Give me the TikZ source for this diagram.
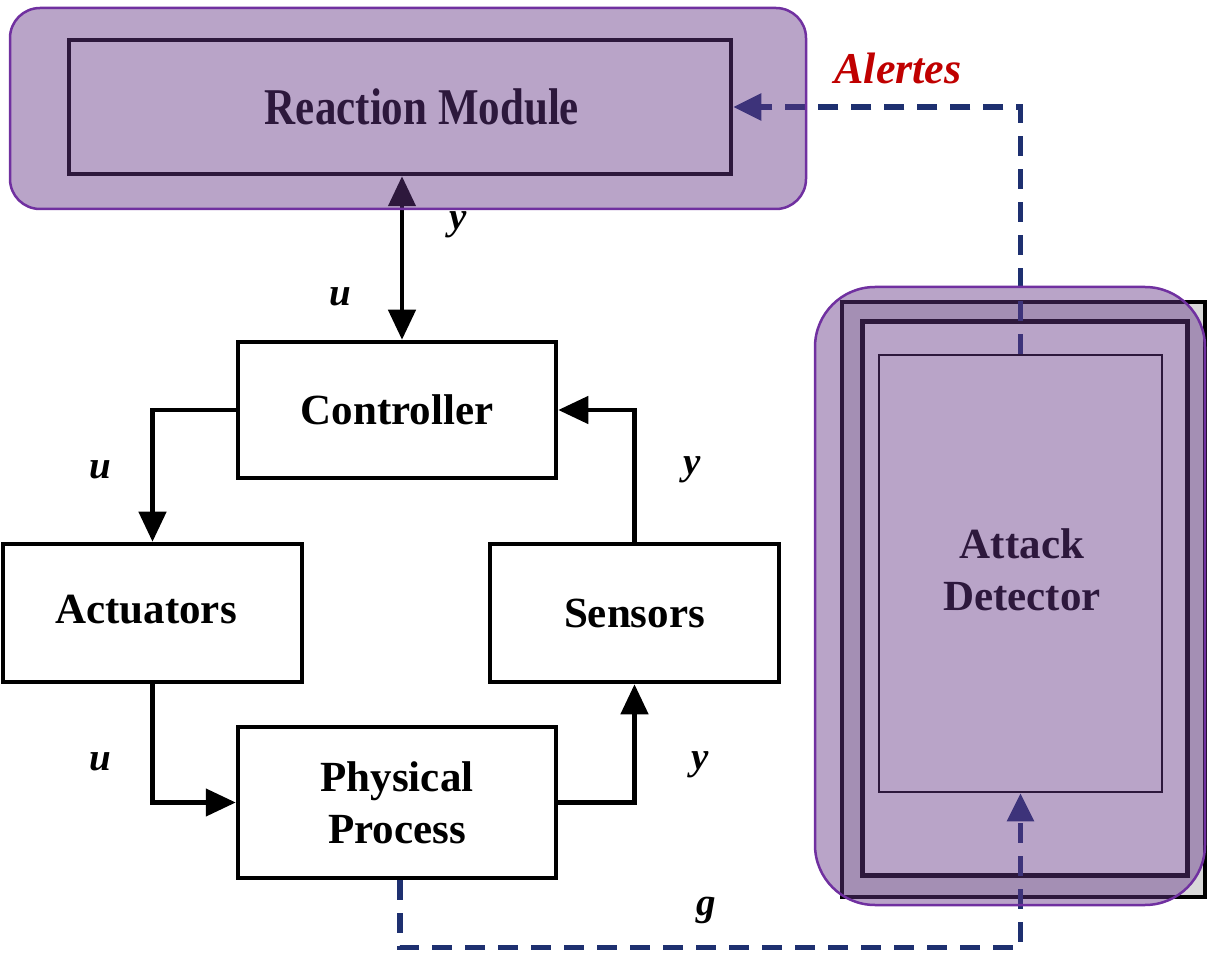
\documentclass[tikz,border=0pt]{standalone}
\usepackage{fontspec}
\setmainfont{Liberation Serif}
\usetikzlibrary{arrows.meta,calc}
\definecolor{veil}{RGB}{100,55,135}
\definecolor{veilline}{RGB}{112,48,160}
\definecolor{navy}{RGB}{30,48,112}
\definecolor{alertred}{RGB}{192,0,0}
\tikzset{
  block/.style={draw=black, line width=4.5pt, fill=white, inner sep=0pt, align=center,
    font=\fontsize{43}{52}\selectfont\bfseries},
  label/.style={font=\fontsize{43}{52}\selectfont\bfseries, align=center},
  head/.style={Triangle[length=30pt,width=27pt]},
  flow/.style={line width=4.5pt, -{Triangle[length=30pt,width=27pt]}},
  sig/.style={font=\fontsize{39}{44}\selectfont\bfseries\itshape},
  alarm/.style={navy, line width=5.5pt, dash pattern=on 20pt off 13pt,
    -{Triangle[length=28pt,width=26pt]}},
  veilbox/.style={draw=veilline, line width=2.5pt, fill=veil, fill opacity=0.45}
}
\begin{document}
\begin{tikzpicture}[x=1pt,y=-1pt]
\useasboundingbox[fill=white] (0,0) rectangle (1211,965);

% detector frames (stacked)
\node[draw=black, line width=4pt, fill=black!15, minimum width=363pt, minimum height=595pt, inner sep=0pt] (detback) at (1023.5,599.5) {};
\node[draw=black, line width=5pt, fill=white, minimum width=325pt, minimum height=553pt, inner sep=0pt] (detmid) at (1025,598.5) {};
\node[draw=black, line width=2.5pt, fill=white, minimum width=283pt, minimum height=437pt, inner sep=0pt] (det) at (1020.5,573.5) {};
\node[label] (dettext) at (1022,570) {Attack\\Detector};

% control loop blocks
\node[block, minimum width=662pt, minimum height=134pt] (rm) at (400,107) {};
\node[label] (rmtext) at (422,107) {\scalebox{1}[1.2]{Reaction Module}};
\node[block, minimum width=318pt, minimum height=136pt] (ctrl) at (397,410) {Controller};
\node[block, minimum width=299pt, minimum height=138pt] (act) at (152.5,613) {};
\node[label] (acttext) at (146,610) {Actuators};
\node[block, minimum width=289pt, minimum height=138pt] (sens) at (634.5,613) {Sensors};
\node[block, minimum width=318pt, minimum height=151pt] (phys) at (397,802.5) {Physical\\Process};

% loop connectors
\draw[flow, {Triangle[length=30pt,width=27pt]}-{Triangle[length=30pt,width=27pt]}] (ctrl.north -| 402,0) -- (rm.south -| 402,0);
\draw[flow] (ctrl.west) -| (act.north);
\draw[flow] (act.south) |- (phys.west);
\draw[flow] (phys.east) -| (sens.south);
\draw[flow] (sens.north) |- (ctrl.east);

% monitoring connectors
\coordinate (gturn) at ($(phys.south)+(3,67)$);
\draw[alarm] (phys.south -| gturn) -- (gturn) -| (det.south);
\draw[alarm] (det.north) |- (rm.east);

% signal labels
\node[sig] (ly1) at (458,225) {y};
\node[sig] (lu1) at (340,297) {u};
\node[sig] (lu2) at (100,470) {u};
\node[sig] (ly2) at (692,470) {y};
\node[sig] (lu3) at (100,762) {u};
\node[sig] (ly3) at (700,765) {y};
\node[sig] (lg) at (706,910) {g};
\node[font=\fontsize{44}{50}\selectfont\bfseries\itshape, text=alertred] (alert) at (898,68) {Alertes};

% translucent module overlays
\draw[veilbox, rounded corners=30pt] (10,8) rectangle (806,209);
\draw[veilbox, rounded corners=60pt] (815,287) rectangle (1205,905);
\end{tikzpicture}
\end{document}
